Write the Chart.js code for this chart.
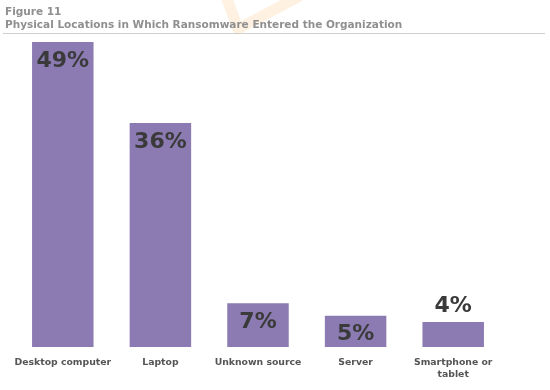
<!DOCTYPE html>
<html>
<head>
<meta charset="utf-8">
<script src="https://cdn.jsdelivr.net/npm/chart.js@4"></script>
<style>
  html, body { margin: 0; padding: 0; background: #fff; }
  #wrap { width: 550px; height: 390px; }
</style>
</head>
<body>
<div id="wrap"><canvas id="myChart" width="550" height="390"></canvas></div>
<script>
var categories = ["Desktop computer", "Laptop", "Unknown source", "Server", ["Smartphone or", "tablet"]];
var shares = [49, 36, 7, 5, 4];
var figureLabel = "Figure 11";
var figureTitle = "Physical Locations in Which Ransomware Entered the Organization";

var options = {
  type: 'bar',
  data: {
    labels: categories,
    datasets: [
      {
        label: 'Share',
        data: shares,
        backgroundColor: '#8b7bb2',
        barPercentage: 0.63,
        categoryPercentage: 1
      }
    ]
  },
  options: {
    responsive: false,
    animation: false,
    layout: {
      padding: { top: 42, left: 14, right: 48, bottom: 0 }
    },
    scales: {
      x: {
        grid: { display: false, drawTicks: false },
        border: { display: false },
        ticks: {
          color: '#555',
          padding: 9,
          autoSkip: false,
          maxRotation: 0,
          font: { family: 'DejaVu Sans', size: 9.3, weight: 'bold', lineHeight: 1.35 }
        }
      },
      y: {
        display: false,
        min: 0,
        max: 49
      }
    },
    plugins: {
      legend: { display: false },
      tooltip: { enabled: false }
    }
  },
  plugins: [
    {
      id: 'header',
      beforeDraw: (chart) => {
        const ctx = chart.ctx;
        ctx.save();
        // faint watermark behind the heading
        ctx.strokeStyle = 'rgba(252, 200, 140, 0.25)';
        ctx.lineWidth = 11;
        ctx.lineJoin = 'round';
        ctx.beginPath();
        ctx.moveTo(226, -4);
        ctx.lineTo(238, 29);
        ctx.lineTo(300, -4);
        ctx.stroke();

        ctx.fillStyle = '#8f8f8f';
        ctx.font = 'bold 10.5px "DejaVu Sans"';
        ctx.textBaseline = 'middle';
        ctx.fillText(figureLabel, 5, 12);
        ctx.fillText(figureTitle, 5, 25);

        ctx.strokeStyle = '#cfcfcf';
        ctx.lineWidth = 1;
        ctx.beginPath();
        ctx.moveTo(3, 33.5);
        ctx.lineTo(545, 33.5);
        ctx.stroke();
        ctx.restore();
      }
    },
    {
      id: 'valueLabels',
      afterDatasetsDraw: (chart) => {
        const ctx = chart.ctx;
        const meta = chart.getDatasetMeta(0);
        ctx.save();
        ctx.fillStyle = '#3a3a3a';
        ctx.font = 'bold 22px "DejaVu Sans"';
        ctx.textAlign = 'center';
        ctx.textBaseline = 'middle';
        meta.data.forEach((bar, i) => {
          const v = shares[i];
          const h = bar.base - bar.y;
          const y = h > 30 ? bar.y + 19 : bar.y - 16;
          ctx.fillText(v + '%', bar.x, y);
        });
        ctx.restore();
      }
    }
  ]
};

var ctx = document.getElementById('myChart').getContext('2d');
new Chart(ctx, options);
</script>
</body>
</html>
